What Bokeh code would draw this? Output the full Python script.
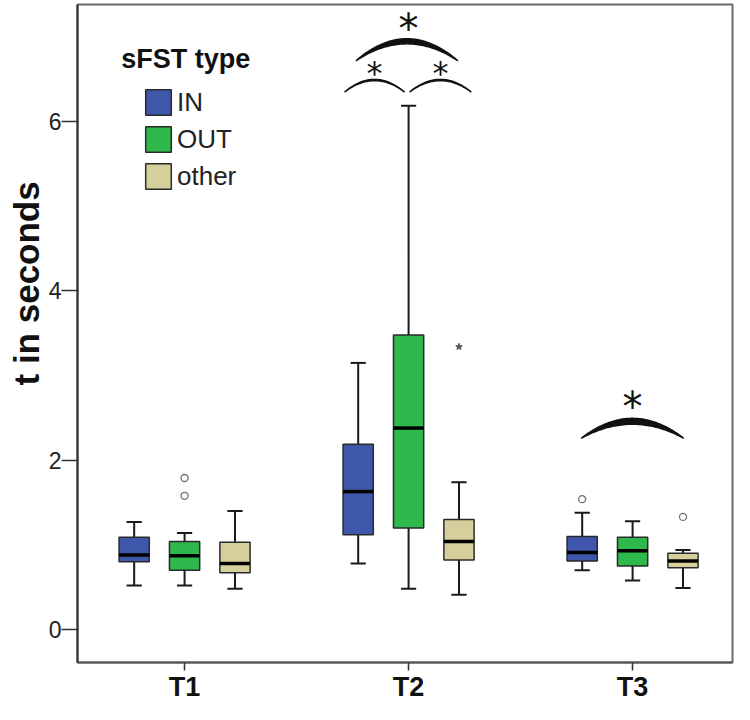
import numpy as np
from bokeh.plotting import figure
from bokeh.models import Range1d, FixedTicker, Legend, LegendItem, Label, Title, ColumnDataSource
from bokeh.core.properties import value
from bokeh.embed import file_html
from bokeh.resources import INLINE

# ---- data ----
groups = ["T1", "T2", "T3"]
group_pos = [1, 2, 3]
types = ["IN", "OUT", "other"]

in_lo = [0.52, 0.78, 0.70]
in_q1 = [0.80, 1.12, 0.81]
in_med = [0.88, 1.63, 0.91]
in_q3 = [1.09, 2.19, 1.10]
in_hi = [1.27, 3.15, 1.38]

out_lo = [0.52, 0.48, 0.58]
out_q1 = [0.70, 1.20, 0.75]
out_med = [0.87, 2.38, 0.93]
out_q3 = [1.04, 3.48, 1.09]
out_hi = [1.14, 6.19, 1.28]

oth_lo = [0.48, 0.41, 0.49]
oth_q1 = [0.67, 0.82, 0.73]
oth_med = [0.78, 1.04, 0.81]
oth_q3 = [1.03, 1.30, 0.90]
oth_hi = [1.40, 1.74, 0.94]

outlier_group = ["T1", "T1", "T3", "T3"]
outlier_type = ["OUT", "OUT", "IN", "other"]
outlier_val = [1.58, 1.79, 1.54, 1.33]

extreme_group = ["T2"]
extreme_type = ["other"]
extreme_val = [3.34]

# significance brackets: (x start, x end, end height, rise)
br_x0 = [1.765, 1.714, 2.004, 2.771]
br_x1 = [2.220, 1.982, 2.280, 3.228]
br_y = [6.72, 6.35, 6.35, 2.26]
br_h = [0.26, 0.15, 0.15, 0.235]
br_thick = [0.06, 0.015, 0.015, 0.07]
star_x = [2.0, 1.848, 2.142, 3.0]
star_y = [7.17, 6.64, 6.64, 2.71]
star_big = [True, False, False, True]

y_ticks = [0, 2, 4, 6]

# ---- styling ----
colors = {"IN": "#3E57AB", "OUT": "#2FB84B", "other": "#D5CF9B"}
offsets = {"IN": -0.225, "OUT": 0.0, "other": 0.225}
BOX_W = 0.135
CAP_W = 0.068
FONT = "Liberation Sans"
PX_PER_UNIT = 84.5

p = figure(width=734, height=704, output_backend="svg", toolbar_location=None,
           x_range=Range1d(0.522, 3.446), y_range=Range1d(-0.39, 7.385),
           min_border_left=77, min_border_right=2, min_border_top=4, min_border_bottom=40)
p.xgrid.visible = False
p.ygrid.visible = False
p.outline_line_color = "#6a6a6a"
p.outline_line_width = 2
p.background_fill_color = "white"

series = {
    "IN": (in_lo, in_q1, in_med, in_q3, in_hi),
    "OUT": (out_lo, out_q1, out_med, out_q3, out_hi),
    "other": (oth_lo, oth_q1, oth_med, oth_q3, oth_hi),
}

legend_items = []
for t in types:
    lo, q1, med, q3, hi = series[t]
    xs = [g + offsets[t] for g in group_pos]
    src = ColumnDataSource(dict(x=xs, lo=lo, q1=q1, med=med, q3=q3, hi=hi,
                                cl=[x - CAP_W / 2 for x in xs], cr=[x + CAP_W / 2 for x in xs],
                                ml=[x - BOX_W / 2 for x in xs], mr=[x + BOX_W / 2 for x in xs]))
    p.segment(x0="x", y0="lo", x1="x", y1="q1", source=src, line_color="#1a1a1a", line_width=2)
    p.segment(x0="x", y0="q3", x1="x", y1="hi", source=src, line_color="#1a1a1a", line_width=2)
    p.segment(x0="cl", y0="lo", x1="cr", y1="lo", source=src, line_color="#1a1a1a", line_width=2)
    p.segment(x0="cl", y0="hi", x1="cr", y1="hi", source=src, line_color="#1a1a1a", line_width=2)
    r = p.vbar(x="x", top="q3", bottom="q1", width=BOX_W, source=src,
               fill_color=colors[t], line_color="#2a2a2a", line_width=1.5)
    p.segment(x0="ml", y0="med", x1="mr", y1="med", source=src, line_color="black", line_width=3.5)
    legend_items.append(LegendItem(label=t, renderers=[r]))

gidx = {g: i for i, g in enumerate(groups)}
ox = [group_pos[gidx[g]] + offsets[t] for g, t in zip(outlier_group, outlier_type)]
p.scatter(ox, outlier_val, marker="circle", size=7, fill_color="white",
          line_color="#707070", line_width=1.3)
ex = [group_pos[gidx[g]] + offsets[t] for g, t in zip(extreme_group, extreme_type)]
p.scatter(ex, extreme_val, marker="star", size=7, fill_color="#555555",
          line_color="#555555", line_width=1)

# brackets (crescent-shaped arcs)
u = np.linspace(0, 1, 60)
shape = 1 - (2 * u - 1) ** 2
pxs, pys = [], []
for x0, x1, yb, h, th in zip(br_x0, br_x1, br_y, br_h, br_thick):
    xx = x0 + (x1 - x0) * u
    upper = yb + h * shape
    lower = yb + (h - th) * shape
    pxs.append(list(xx) + list(xx[::-1]))
    pys.append(list(upper) + list(lower[::-1]))
p.patches(pxs, pys, fill_color="#111111", line_color="#111111", line_width=1.5)

# asterisks
big_sz, small_sz = 40, 32
sx_b = [x for x, b in zip(star_x, star_big) if b]
sy_b = [y - 0.16 * big_sz / PX_PER_UNIT for y, b in zip(star_y, star_big) if b]
sx_s = [x for x, b in zip(star_x, star_big) if not b]
sy_s = [y - 0.16 * small_sz / PX_PER_UNIT for y, b in zip(star_y, star_big) if not b]
p.text(sx_b, sy_b, text=["*"] * len(sx_b), text_align="center", text_baseline="alphabetic",
       text_font=value("DejaVu Sans"), text_font_size=f"{big_sz}px", text_color="#111111")
p.text(sx_s, sy_s, text=["*"] * len(sx_s), text_align="center", text_baseline="alphabetic",
       text_font=value("DejaVu Sans"), text_font_size=f"{small_sz}px", text_color="#111111")

# legend
legend = Legend(items=legend_items, location=(65, 470), orientation="vertical",
                glyph_width=32, glyph_height=32, label_height=32, spacing=5,
                padding=0, margin=0, label_standoff=3,
                label_text_font=FONT, label_text_font_size="26px", label_text_color="#222222",
                background_fill_alpha=0, border_line_alpha=0)
p.add_layout(legend, "center")
p.add_layout(Label(x=0.717, y=6.74, text="sFST type", text_font=FONT, text_font_size="27px",
                   text_font_style="bold", text_color="#111111", text_baseline="alphabetic"))

# axes
p.yaxis.ticker = FixedTicker(ticks=y_ticks)
p.yaxis.minor_tick_line_color = None
p.yaxis.major_tick_out = 16
p.yaxis.major_tick_in = 0
p.yaxis.major_tick_line_color = "#333333"
p.yaxis.major_tick_line_width = 1.5
p.yaxis.axis_line_color = "#333333"
p.yaxis.axis_line_width = 2
p.yaxis.major_label_text_font = FONT
p.yaxis.major_label_text_font_size = "23px"
p.yaxis.major_label_text_color = "#222222"
p.yaxis.major_label_standoff = 0

p.xaxis.ticker = FixedTicker(ticks=group_pos)
p.xaxis.major_label_overrides = {g: lab for g, lab in zip(group_pos, groups)}
p.xaxis.minor_tick_line_color = None
p.xaxis.major_tick_out = 8
p.xaxis.major_tick_in = 0
p.xaxis.major_tick_line_color = "#333333"
p.xaxis.major_tick_line_width = 1.5
p.xaxis.axis_line_color = "#555555"
p.xaxis.axis_line_width = 2
p.xaxis.major_label_text_font = FONT
p.xaxis.major_label_text_font_size = "27px"
p.xaxis.major_label_text_font_style = "bold"
p.xaxis.major_label_text_color = "#111111"
p.xaxis.major_label_standoff = 1

p.add_layout(Title(text="t in seconds", align="left", offset=277, text_font=FONT,
                   text_font_size="35px", text_font_style="bold", text_color="#111111",
                   standoff=0), "left")

open("out.html", "w").write(file_html(p, INLINE))
